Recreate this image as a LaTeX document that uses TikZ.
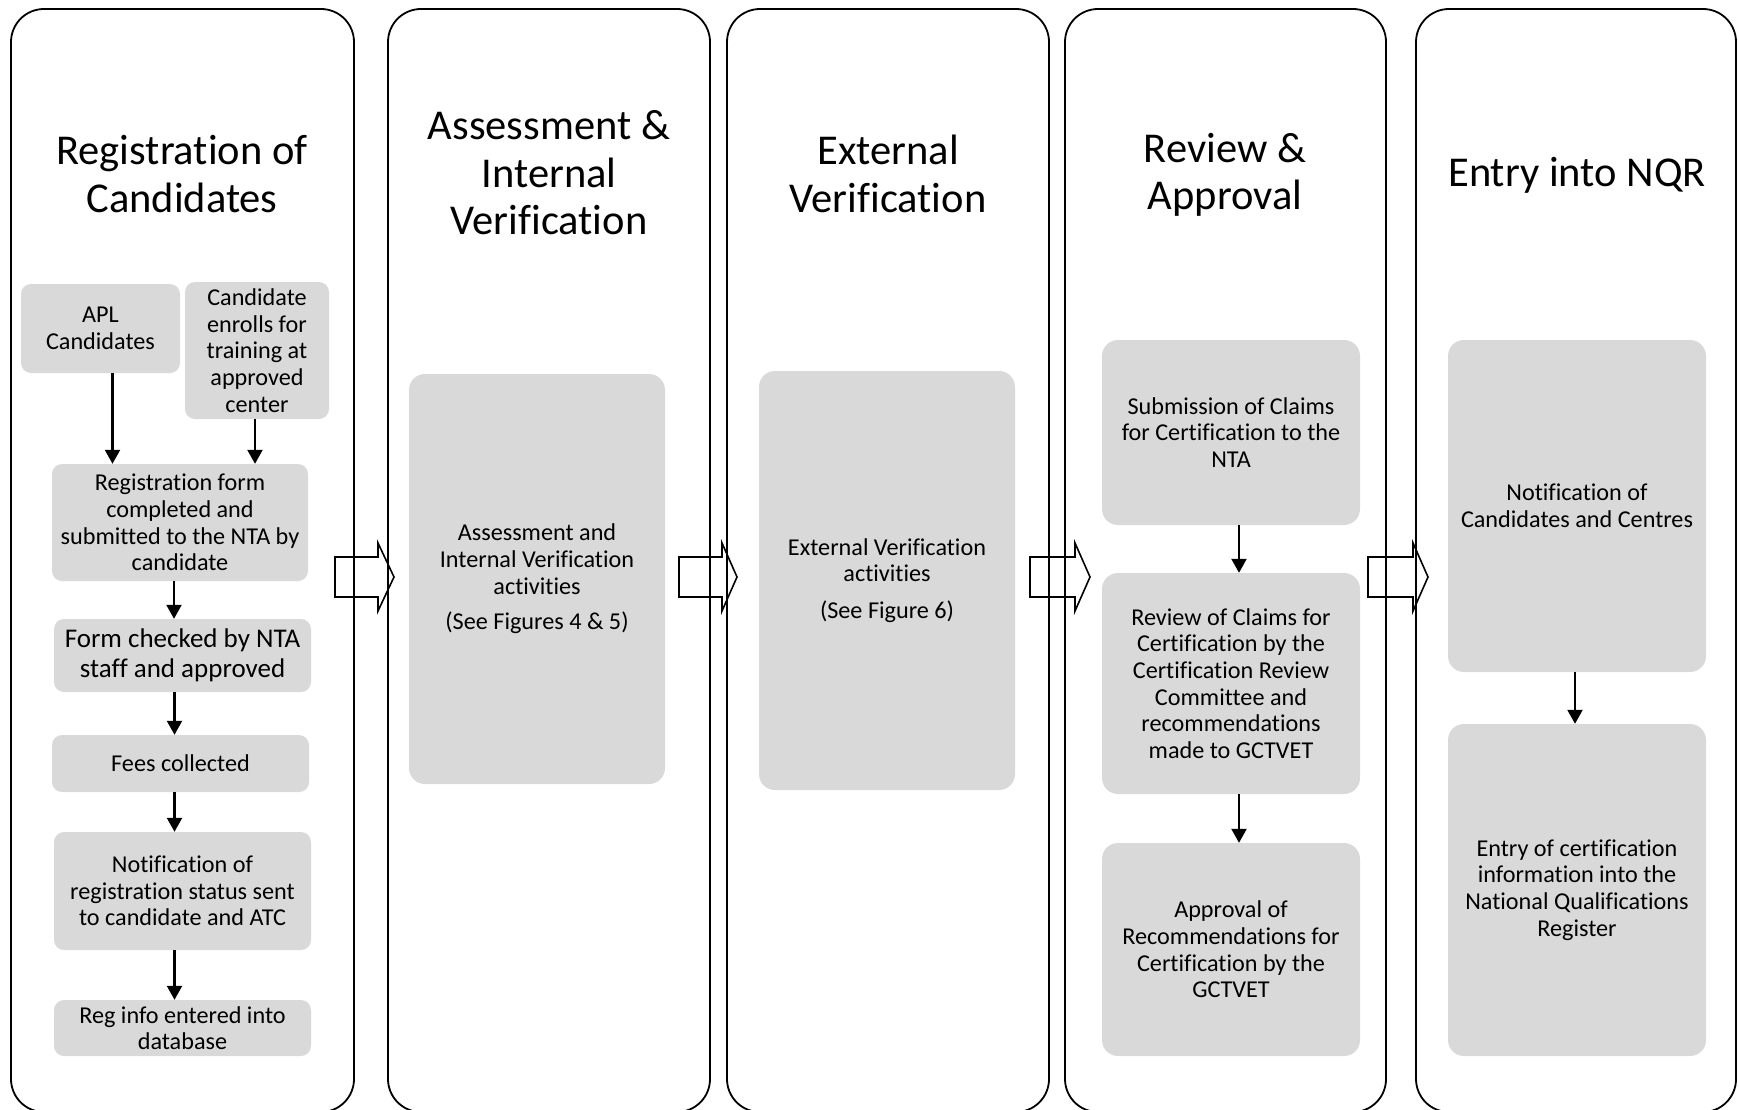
\documentclass[tikz,border=0pt]{standalone}
\usepackage{fontspec}
\setmainfont{Carlito}[Ligatures={NoCommon,NoContextual}]
\usetikzlibrary{arrows.meta}
\definecolor{boxgray}{HTML}{D9D9D9}
\begin{document}
\begin{tikzpicture}[x=1pt,y=-1pt,
  colframe/.style={draw, line width=1.8pt, rounded corners=33pt},
  titletxt/.style={font=\fontsize{42.5}{47.5}\selectfont, align=center, inner sep=0pt},
  gbox/.style={fill=boxgray, rounded corners=16pt, font=\fontsize{24.2}{26.6}\selectfont, align=center, inner sep=0pt},
  sbox/.style={gbox, rounded corners=10pt},
  conn/.style={line width=2.2pt, -{Triangle[width=15pt,length=14pt]}},
  blockarrow/.style={draw, fill=white, line width=1.6pt, line join=miter}]
\useasboundingbox (0,0) rectangle (1739,1110);

% block arrows (under the column frames)
\foreach \l/\b/\t in {335/378/394, 679/722/737, 1030/1075/1090, 1368/1413/1428}{
  \draw[blockarrow] (\l,557) -- (\b,557) -- (\b,543) -- (\t,577) -- (\b,611) -- (\b,597) -- (\l,597) -- cycle;
}

% column frames
\draw[colframe] (11,9) rectangle (354,1112);
\draw[colframe] (388,9) rectangle (710,1112);
\draw[colframe] (727,9) rectangle (1049,1112);
\draw[colframe] (1065,9) rectangle (1386,1112);
\draw[colframe] (1416,9) rectangle (1736,1112);

% titles
\node[titletxt] (t1) at (182,174) {Registration of\\Candidates};
\node[titletxt] (t2) at (549,173) {Assessment \&\\Internal\\Verification};
\node[titletxt] (t3) at (888,174) {External\\Verification};
\node[titletxt] (t4) at (1225,175) {Review \&\\Approval};
\node[titletxt] (t5) at (1577,175) {Entry into NQR};

% column 1
\node[sbox, minimum width=159, minimum height=89] (apl) at (100.5,328.5) {APL\\Candidates};
\node[sbox, minimum width=144, minimum height=137] (enrol) at (257,350.5) {Candidate\\enrolls for\\training at\\approved\\center};
\node[sbox, minimum width=256, minimum height=117] (regform) at (180,522.5) {Registration form\\completed and\\submitted to the NTA by\\candidate};
\node[sbox, minimum width=257, minimum height=73, font=\fontsize{27}{29.5}\selectfont] (checked) at (182.5,655.5) {Form checked by NTA\\staff and approved};
\node[sbox, minimum width=257, minimum height=57] (fees) at (180.5,763.5) {Fees collected};
\node[sbox, minimum width=257, minimum height=118] (notif) at (182.5,891) {Notification of\\registration status sent\\to candidate and ATC};
\node[sbox, minimum width=257, minimum height=56] (reginfo) at (182.5,1028) {Reg info entered into\\database};

\draw[conn] ([xshift=12pt]apl.south) -- ([xshift=12pt]apl.south |- regform.north);
\draw[conn] ([xshift=-2pt]enrol.south) -- ([xshift=-2pt]enrol.south |- regform.north);
\draw[conn] ([xshift=-6pt]regform.south) -- ([xshift=-6pt]regform.south |- checked.north);
\draw[conn] ([xshift=-8pt]checked.south) -- ([xshift=-8pt]checked.south |- fees.north);
\draw[conn] ([xshift=-6pt]fees.south) -- ([xshift=-6pt]fees.south |- notif.north);
\draw[conn] ([xshift=-8pt]notif.south) -- ([xshift=-8pt]notif.south |- reginfo.north);

% column 2
\node[gbox, minimum width=256, minimum height=410] (assess) at (537,579) {Assessment and\\Internal Verification\\activities\\[9pt](See Figures 4 \& 5)};

% column 3
\node[gbox, minimum width=256, minimum height=419] (ext) at (887,580.5) {External Verification\\activities\\[10pt](See Figure 6)};

% column 4
\node[gbox, minimum width=258, minimum height=185] (subm) at (1231,432.5) {Submission of Claims\\for Certification to the\\NTA};
\node[gbox, minimum width=258, minimum height=221] (review) at (1231,683.5) {Review of Claims for\\Certification by the\\Certification Review\\Committee and\\recommendations\\made to GCTVET};
\node[gbox, minimum width=258, minimum height=213] (approv) at (1231,949.5) {Approval of\\Recommendations for\\Certification by the\\GCTVET};
\draw[conn] ([xshift=8pt]subm.south) -- ([xshift=8pt]subm.south |- review.north);
\draw[conn] ([xshift=8pt]review.south) -- ([xshift=8pt]review.south |- approv.north);

% column 5
\node[gbox, minimum width=258, minimum height=332] (notcand) at (1577,506) {Notification of\\Candidates and Centres};
\node[gbox, minimum width=258, minimum height=332] (entry) at (1577,890) {Entry of certification\\information into the\\National Qualifications\\Register};
\draw[conn] ([xshift=-2pt]notcand.south) -- ([xshift=-2pt]notcand.south |- entry.north);
\end{tikzpicture}
\end{document}
